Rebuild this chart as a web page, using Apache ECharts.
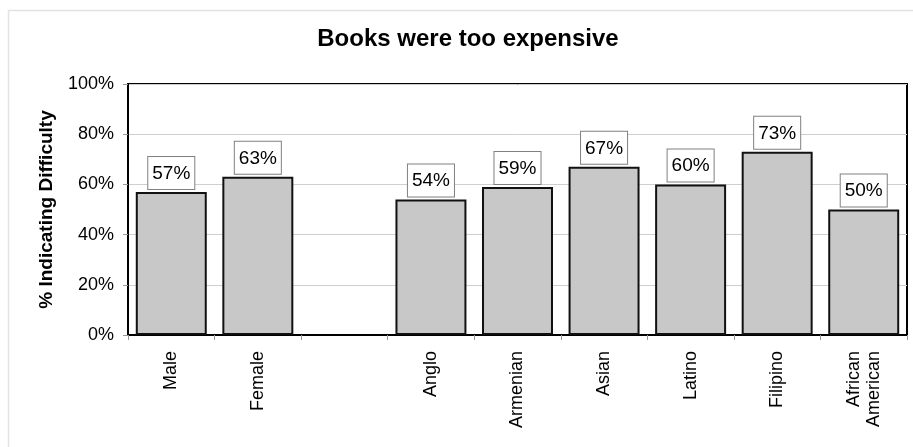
<!DOCTYPE html>
<html>
<head>
<meta charset="utf-8">
<style>
  html, body { margin: 0; padding: 0; background: #fff; }
  #chart { width: 913px; height: 447px; }
</style>
<script src="https://cdn.jsdelivr.net/npm/echarts@6/dist/echarts.min.js"></script>
</head>
<body>
<div id="chart"></div>
<script>
// Share of students reporting that books were too expensive, by group
const categories = ['Male', 'Female', '', 'Anglo', 'Armenian', 'Asian', 'Latino', 'Filipino', 'African\nAmerican'];
const percentValues = [57, 63, null, 54, 59, 67, 60, 73, 50];
const yTicks = [0, 20, 40, 60, 80, 100];

const FONT = "'Liberation Sans', Arial, Helvetica, sans-serif";

const chart = echarts.init(document.getElementById('chart'), null, { renderer: 'canvas' });

chart.setOption({
  animation: false,
  backgroundColor: '#ffffff',
  textStyle: { fontFamily: FONT },
  title: {
    text: 'Books were too expensive',
    left: 463,
    top: 22,
    textAlign: 'center',
    textStyle: { fontFamily: FONT, fontSize: 24, fontWeight: 'bold', color: '#000' }
  },
  graphic: [
    {
      type: 'rect',
      silent: true,
      z: -10,
      shape: { x: 8.5, y: 10.5, width: 1200, height: 1200 },
      style: { fill: 'none', stroke: '#e2e2e2', lineWidth: 1.5 }
    }
  ],
  grid: {
    left: 128,
    top: 84,
    right: 6,
    bottom: 112,
    show: true,
    borderColor: '#000',
    borderWidth: 2,
    backgroundColor: 'transparent'
  },
  xAxis: {
    type: 'category',
    data: categories,
    axisLine: { lineStyle: { color: '#000', width: 2 } },
    axisTick: { show: true, alignWithLabel: false, length: 5, lineStyle: { color: '#999' } },
    axisLabel: {
      rotate: 90,
      interval: 0,
      margin: 16,
      fontSize: 18,
      lineHeight: 20,
      color: '#000',
      fontFamily: FONT
    },
    splitLine: { show: false }
  },
  yAxis: {
    type: 'value',
    min: yTicks[0],
    max: yTicks[yTicks.length - 1],
    interval: 20,
    name: '% Indicating Difficulty',
    nameLocation: 'middle',
    nameGap: 72,
    nameRotate: 90,
    nameTextStyle: { fontFamily: FONT, fontSize: 19, fontWeight: 'bold', color: '#000' },
    axisLine: { show: true, lineStyle: { color: '#000', width: 2 } },
    axisTick: { show: true, length: 5, lineStyle: { color: '#999' } },
    axisLabel: {
      margin: 14,
      fontSize: 18,
      color: '#000',
      fontFamily: FONT,
      formatter: v => v + '%'
    },
    splitLine: { show: true, lineStyle: { color: '#cfcfcf', width: 1 } }
  },
  series: [
    {
      type: 'bar',
      data: percentValues,
      barWidth: '82%',
      itemStyle: { color: '#c8c8c8', borderColor: '#111', borderWidth: 2 },
      label: {
        show: true,
        position: 'top',
        distance: 3,
        formatter: p => p.value + '%',
        fontFamily: FONT,
        fontSize: 19,
        lineHeight: 21,
        color: '#000',
        backgroundColor: '#fff',
        borderColor: '#808080',
        borderWidth: 1,
        padding: [6, 4, 5, 4]
      }
    }
  ]
});
</script>
</body>
</html>
